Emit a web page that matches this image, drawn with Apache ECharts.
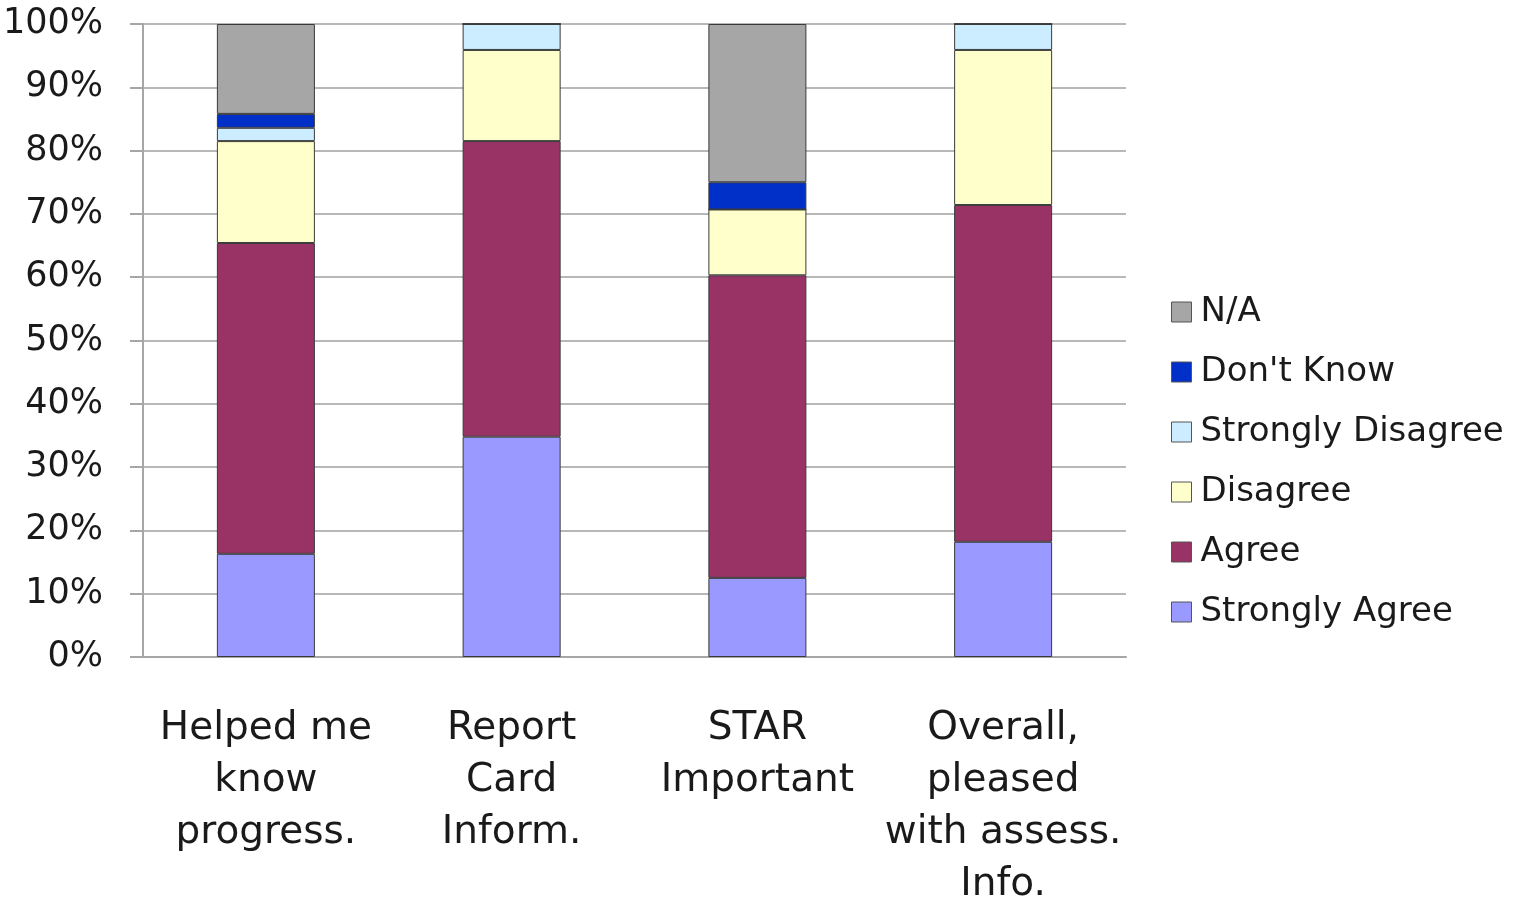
<!DOCTYPE html>
<html>
<head>
<meta charset="utf-8">
<script src="https://cdn.jsdelivr.net/npm/echarts@6/dist/echarts.min.js"></script>
<style>
  html, body { margin: 0; padding: 0; background: #fff; }
  #chart { width: 1518px; height: 902px; }
</style>
</head>
<body>
<div id="chart"></div>
<script>
// categories (line breaks as shown under the axis)
const categories = [
  'Helped me\nknow\nprogress.',
  'Report\nCard\nInform.',
  'STAR\nImportant',
  'Overall,\npleased\nwith assess.\nInfo.'
]
const yTicks = [0, 10, 20, 30, 40, 50, 60, 70, 80, 90, 100]

// percentages per category
const stronglyAgree = [16.3, 34.8, 12.5, 18.2]
const agree = [49.1, 46.7, 47.8, 53.2]
const disagree = [16.1, 14.4, 10.4, 24.5]
const stronglyDisagree = [2.1, 4.1, 0, 4.1]
const dontKnow = [2.2, 0, 4.3, 0]
const notApplicable = [14.2, 0, 25.0, 0]

const font = 'DejaVu Sans'
const chart = echarts.init(document.getElementById('chart'))

function bar (name, data, color) {
  return {
    name: name,
    type: 'bar',
    stack: 'total',
    barWidth: 98,
    data: data,
    itemStyle: { color: color, borderColor: '#3a3a3a', borderWidth: 1 }
  }
}

chart.setOption({
  animation: false,
  textStyle: { fontFamily: font },
  grid: { left: 143, right: 392, top: 24, bottom: 245, outerBoundsMode: 'none' },
  legend: {
    orient: 'vertical',
    left: 1166,
    top: 290,
    itemWidth: 20,
    itemHeight: 20,
    itemGap: 26,
    icon: 'rect',
    data: ['N/A', "Don't Know", 'Strongly Disagree', 'Disagree', 'Agree', 'Strongly Agree'],
    textStyle: { fontFamily: font, fontSize: 34, color: '#1a1a1a', padding: [0, 0, 0, 4] },
    itemStyle: { borderColor: '#555', borderWidth: 1 }
  },
  xAxis: {
    type: 'category',
    data: categories,
    axisLine: { lineStyle: { color: '#a6a6a6', width: 2 } },
    axisTick: { length: 13, lineStyle: { color: '#a6a6a6', width: 2 } },
    axisLabel: {
      interval: 0,
      margin: 46,
      fontFamily: font,
      fontSize: 39,
      lineHeight: 52,
      color: '#1a1a1a'
    }
  },
  yAxis: {
    type: 'value',
    min: yTicks[0],
    max: yTicks[yTicks.length - 1],
    interval: 10,
    axisLine: { show: true, lineStyle: { color: '#a6a6a6', width: 2 } },
    axisTick: { show: true, length: 13, lineStyle: { color: '#a6a6a6', width: 2 } },
    splitLine: { lineStyle: { color: '#b8b8b8', width: 2 } },
    axisLabel: {
      margin: 40,
      fontFamily: font,
      fontSize: 35,
      color: '#1a1a1a',
      formatter: '{value}%'
    }
  },
  series: [
    bar('Strongly Agree', stronglyAgree, '#9999ff'),
    bar('Agree', agree, '#993366'),
    bar('Disagree', disagree, '#ffffcc'),
    bar('Strongly Disagree', stronglyDisagree, '#ccecff'),
    bar("Don't Know", dontKnow, '#0030c8'),
    bar('N/A', notApplicable, '#a6a6a6')
  ]
})
</script>
</body>
</html>
